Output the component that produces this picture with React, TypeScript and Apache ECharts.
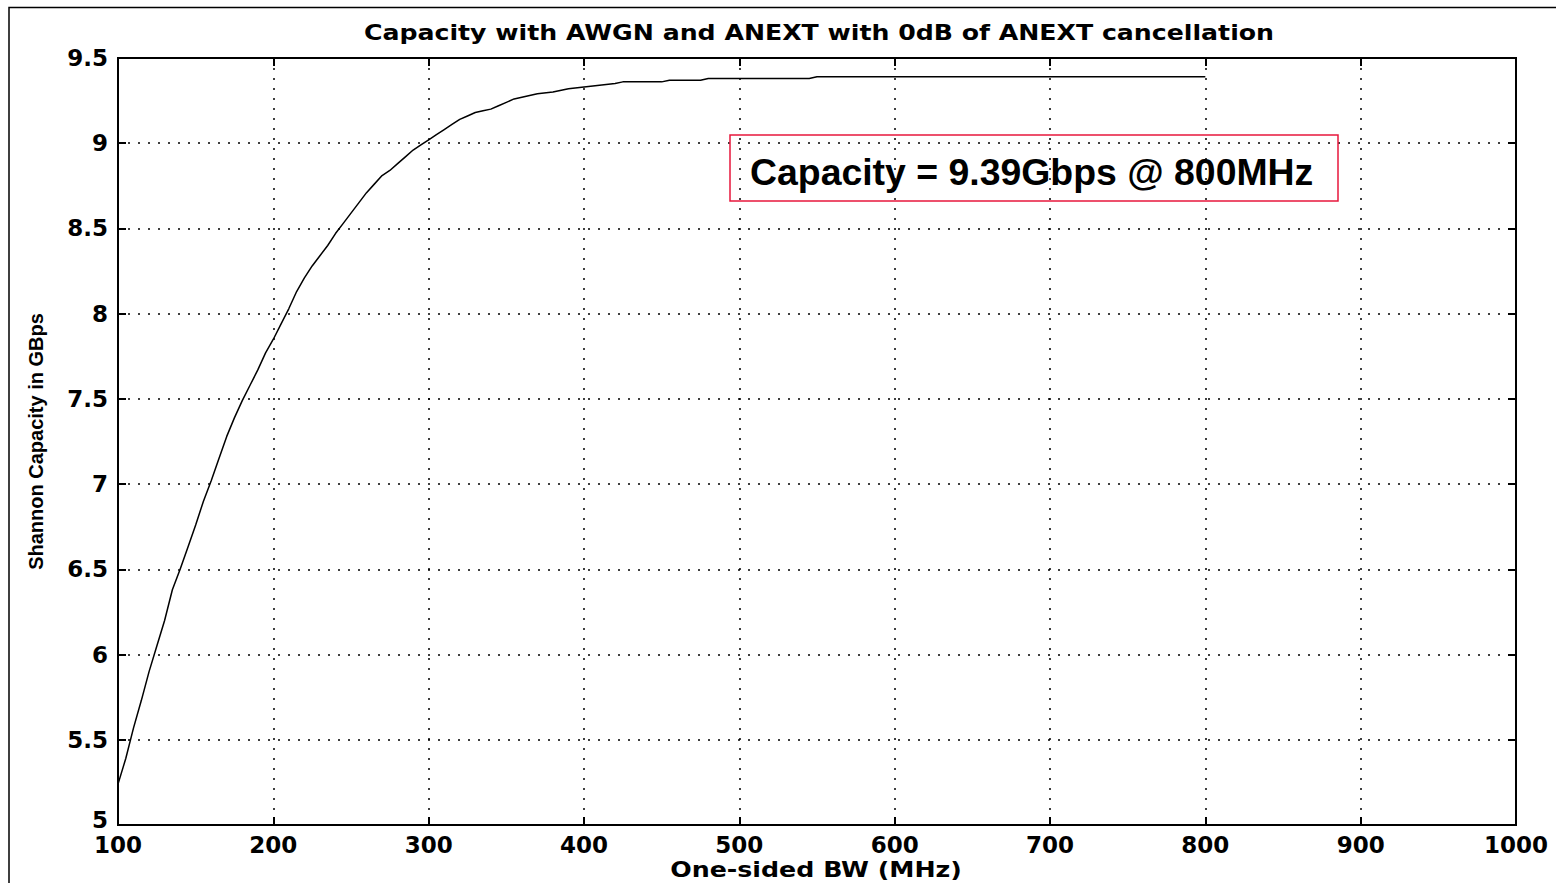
import React, { useEffect, useRef } from "react";
import * as echarts from "echarts";

const bandwidthMHz = [
  100, 105, 110, 115, 120, 125, 130, 135, 140, 145, 150, 155, 160, 165, 170, 175, 180, 185, 190, 195,
  200, 205, 210, 215, 220, 225, 230, 235, 240, 245, 250, 255, 260, 265, 270, 275, 280, 285, 290, 295,
  300, 305, 310, 315, 320, 325, 330, 335, 340, 345, 350, 355, 360, 365, 370, 380, 390, 400, 410, 420,
  425, 450, 455, 475, 480, 545, 550, 800,
];
const capacityGbps = [
  5.24, 5.39, 5.57, 5.73, 5.9, 6.05, 6.2, 6.38, 6.5, 6.63, 6.76, 6.9, 7.02, 7.15, 7.28, 7.39, 7.49, 7.58, 7.67, 7.77,
  7.85, 7.94, 8.03, 8.13, 8.21, 8.28, 8.34, 8.4, 8.47, 8.53, 8.59, 8.65, 8.71, 8.76, 8.81, 8.84, 8.88, 8.92, 8.96, 8.99,
  9.02, 9.05, 9.08, 9.11, 9.14, 9.16, 9.18, 9.19, 9.2, 9.22, 9.24, 9.26, 9.27, 9.28, 9.29, 9.3, 9.32, 9.33, 9.34, 9.35,
  9.36, 9.36, 9.37, 9.37, 9.38, 9.38, 9.39, 9.39,
];
const xTicks = [100, 200, 300, 400, 500, 600, 700, 800, 900, 1000];
const yTicks = [5, 5.5, 6, 6.5, 7, 7.5, 8, 8.5, 9, 9.5];

const titleText = "Capacity with AWGN and ANEXT with 0dB of ANEXT cancellation";
const xName = "One-sided BW (MHz)";
const yName = "Shannon Capacity in GBps";
const annotation = "Capacity = 9.39Gbps @ 800MHz";

export default function App() {
  const ref = useRef<HTMLDivElement>(null);
  useEffect(() => {
    document.body.style.margin = "0";
    const chart = echarts.init(ref.current!, null, { renderer: "svg" });
    const labelFont = {
      fontFamily: "DejaVu Sans",
      fontWeight: "bold" as const,
      fontSize: 23,
      color: "#000",
    };
    const split = { show: true, lineStyle: { color: "#000", type: [2, 8] as any, width: 1.5 } };
    chart.setOption({
      animation: false,
      backgroundColor: "#fff",
      grid: { left: 118, right: 40, top: 58, bottom: 58, show: true, borderColor: "#000", borderWidth: 2 },
      xAxis: [
        {
          type: "value",
          min: 100,
          max: 1000,
          interval: 100,
          axisLine: { show: true, lineStyle: { color: "#000", width: 2 } },
          axisTick: { show: true, inside: true, length: 8, lineStyle: { color: "#000", width: 2 } },
          axisLabel: { ...labelFont, margin: 8, formatter: (v: number) => (xTicks.includes(v) ? String(v) : "") },
          splitLine: split,
        },
        {
          type: "value",
          position: "top",
          min: 100,
          max: 1000,
          interval: 100,
          axisLine: { show: true, lineStyle: { color: "#000", width: 2 } },
          axisTick: { show: true, inside: true, length: 8, lineStyle: { color: "#000", width: 2 } },
          axisLabel: { show: false },
          splitLine: { show: false },
        },
      ],
      yAxis: [
        {
          type: "value",
          min: 5,
          max: 9.5,
          interval: 0.5,
          axisLine: { show: true, lineStyle: { color: "#000", width: 2 } },
          axisTick: { show: true, inside: true, length: 8, lineStyle: { color: "#000", width: 2 } },
          axisLabel: {
            ...labelFont,
            margin: 10,
            formatter: (v: number) => (v === yTicks[0] ? "{lo|" + v + "}" : yTicks.includes(v) ? String(v) : ""),
            rich: {
              lo: { ...labelFont, padding: [0, 0, 10, 0] },
            },
          },
          splitLine: split,
          name: yName,
          nameLocation: "middle",
          nameGap: 72,
          nameTextStyle: { fontFamily: "Liberation Sans", fontWeight: "bold", fontSize: 20, color: "#000" },
        },
        {
          type: "value",
          position: "right",
          min: 5,
          max: 9.5,
          interval: 0.5,
          axisLine: { show: true, lineStyle: { color: "#000", width: 2 } },
          axisTick: { show: true, inside: true, length: 8, lineStyle: { color: "#000", width: 2 } },
          axisLabel: { show: false },
          splitLine: { show: false },
        },
      ],
      series: [
        {
          type: "line",
          data: bandwidthMHz.map((x, i) => [x, capacityGbps[i]]),
          showSymbol: false,
          symbol: "none",
          lineStyle: { color: "#000", width: 1.5 },
          xAxisIndex: 0,
          yAxisIndex: 0,
          z: 5,
        },
      ],
      graphic: [
        {
          type: "polyline",
          shape: { points: [[9, 890], [9, 7.5], [1560, 7.5]] },
          style: { stroke: "#000", lineWidth: 1.5, fill: null },
          silent: true,
        },
        {
          type: "text",
          x: 819,
          y: 32,
          scaleX: 1.2,
          style: {
            text: titleText,
            fontFamily: "DejaVu Sans",
            fontWeight: "bold",
            fontSize: 21,
            fill: "#000",
            align: "center",
            verticalAlign: "middle",
          },
        },
        {
          type: "text",
          x: 816,
          y: 870,
          scaleX: 1.15,
          style: {
            text: xName,
            fontFamily: "DejaVu Sans",
            fontWeight: "bold",
            fontSize: 22,
            fill: "#000",
            align: "center",
            verticalAlign: "middle",
          },
        },
        {
          type: "rect",
          shape: { x: 730, y: 135, width: 608, height: 66 },
          style: { fill: null, stroke: "#e8173c", lineWidth: 1.5 },
          z: 10,
        },
        {
          type: "text",
          x: 750,
          y: 172,
          style: {
            text: annotation,
            fontFamily: "Liberation Sans",
            fontWeight: "bold",
            fontSize: 37.4,
            fill: "#000",
            align: "left",
            verticalAlign: "middle",
          },
          z: 10,
        },
      ],
    });
    return () => chart.dispose();
  }, []);
  return <div ref={ref} style={{ width: 1556, height: 883 }} />;
}
